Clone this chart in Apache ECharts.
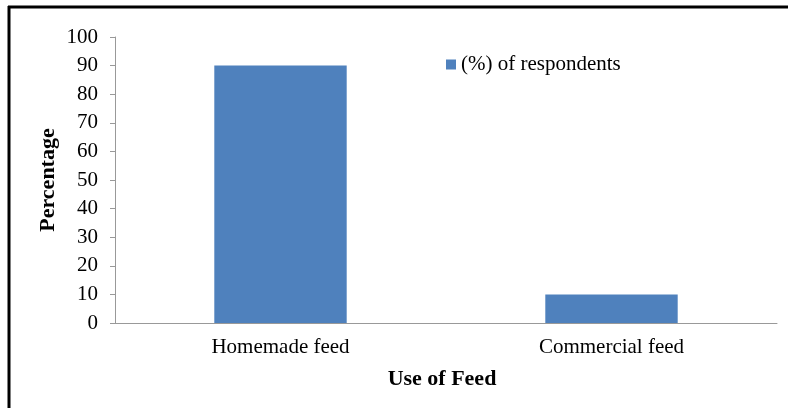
<!DOCTYPE html>
<html>
<head>
<meta charset="utf-8">
<script src="https://cdn.jsdelivr.net/npm/echarts@6/dist/echarts.min.js"></script>
<style>
  html, body { margin: 0; padding: 0; background: #fff; }
  #chart { width: 788px; height: 408px; }
</style>
</head>
<body>
<div id="chart"></div>
<script>
// Feed usage among respondents
const categories = ['Homemade feed', 'Commercial feed'];
const respondentsPct = [90, 10];
const seriesName = '(%) of respondents';
const yMin = 0, yMax = 100, yStep = 10;

const serif = '"Liberation Serif", "Times New Roman", serif';
const chart = echarts.init(document.getElementById('chart'), null, { renderer: 'canvas' });

chart.setOption({
  animation: false,
  backgroundColor: '#ffffff',
  grid: { left: 115, right: 11, top: 37, bottom: 85 },
  legend: {
    data: [seriesName],
    icon: 'rect',
    left: 441, top: 49,
    itemWidth: 10, itemHeight: 10, itemGap: 4,
    textStyle: { fontFamily: serif, fontSize: 21, color: '#000' }
  },
  xAxis: {
    type: 'category',
    data: categories,
    name: 'Use of Feed',
    nameLocation: 'middle',
    nameGap: 45,
    nameTextStyle: { fontFamily: serif, fontSize: 22, fontWeight: 'bold', color: '#000', padding: [0, 8, 0, 0] },
    axisLine: { lineStyle: { color: '#999', width: 1 } },
    axisTick: { show: false },
    axisLabel: { fontFamily: serif, fontSize: 21, color: '#000', margin: 14 }
  },
  yAxis: {
    type: 'value',
    min: yMin, max: yMax, interval: yStep,
    name: 'Percentage',
    nameLocation: 'middle',
    nameGap: 56,
    nameMoveOverlap: false,
    nameTextStyle: { fontFamily: serif, fontSize: 22, fontWeight: 'bold', color: '#000' },
    axisLine: { show: true, lineStyle: { color: '#999', width: 1 } },
    axisTick: { show: true, length: 5, lineStyle: { color: '#999' } },
    splitLine: { show: false },
    axisLabel: { fontFamily: serif, fontSize: 21, color: '#000', margin: 17 }
  },
  series: [{
    name: seriesName,
    type: 'bar',
    data: respondentsPct,
    barWidth: '40%',
    itemStyle: { color: '#4F81BD' }
  }],
  graphic: [
    { type: 'line', shape: { x1: 8, y1: 7, x2: 788, y2: 7 }, style: { stroke: '#000', lineWidth: 3 } },
    { type: 'line', shape: { x1: 9, y1: 6, x2: 9, y2: 408 }, style: { stroke: '#000', lineWidth: 3 } }
  ]
});
</script>
</body>
</html>
